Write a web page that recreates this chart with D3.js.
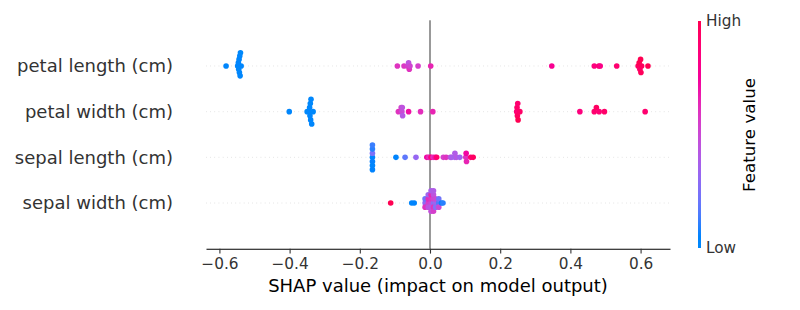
<!DOCTYPE html>
<html>
<head>
<meta charset="utf-8">
<script src="https://cdn.jsdelivr.net/npm/d3@7"></script>
<style>
  body { margin: 0; background: #fff; }
  svg { display: block; font-family: "DejaVu Sans", sans-serif; }
</style>
</head>
<body>
<svg id="chart" width="800" height="310"></svg>
<script>
// feature rows, bottom to top (row index = position on y)
const features = ["sepal width (cm)", "sepal length (cm)", "petal width (cm)", "petal length (cm)"];

// SHAP values per sample (30 test samples) and feature value (0 = low, 1 = high)
const petalLengthShap = [-0.581, -0.548, -0.546, -0.545, -0.544, -0.543, -0.542, -0.541, -0.540, -0.538,
  -0.093, -0.074, -0.064, -0.061, -0.059, -0.057, -0.034, 0.002,
  0.347, 0.468, 0.481, 0.485, 0.532, 0.593, 0.596, 0.598, 0.600, 0.601, 0.603, 0.621];
const petalLengthFv = [0.02, 0.01, 0.03, 0.0, 0.02, 0.01, 0.03, 0.02, 0.0, 0.03,
  0.6, 0.58, 0.55, 0.45, 0.6, 0.52, 0.55, 0.65,
  0.78, 0.85, 0.88, 0.82, 0.9, 0.95, 1.0, 0.92, 1.0, 0.97, 0.96, 1.0];

const petalWidthShap = [-0.401, -0.350, -0.344, -0.343, -0.342, -0.341, -0.340, -0.339, -0.337, -0.333,
  -0.090, -0.082, -0.080, -0.079, -0.078, -0.061, -0.027, 0.008,
  0.247, 0.248, 0.249, 0.250, 0.251, 0.256, 0.427, 0.468, 0.474, 0.482, 0.497, 0.613];
const petalWidthFv = [0.02, 0.0, 0.03, 0.01, 0.02, 0.0, 0.03, 0.01, 0.02, 0.0,
  0.6, 0.55, 0.5, 0.45, 0.42, 0.7, 0.62, 0.65,
  0.88, 0.92, 0.95, 0.9, 1.0, 0.93, 0.85, 0.9, 0.95, 0.88, 0.92, 0.9];

const sepalLengthShap = [-0.164, -0.164, -0.164, -0.164, -0.164, -0.164, -0.164,
  -0.097, -0.071, -0.040,
  -0.009, -0.004, 0.000, 0.003, 0.009, 0.015, 0.019, 0.038, 0.046, 0.058,
  0.062, 0.071, 0.071, 0.076, 0.085, 0.102, 0.103, 0.104, 0.116, 0.123];
const sepalLengthFv = [0.05, 0.25, 0.08, 0.1, 0.03, 0.12, 0.06,
  0.05, 0.18, 0.32,
  0.72, 0.65, 0.6, 0.85, 0.62, 0.7, 0.9, 0.55, 0.6, 0.45,
  0.38, 0.36, 0.4, 0.42, 0.35, 0.6, 0.72, 0.65, 0.88, 0.95];

const sepalWidthShap = [-0.112, -0.052, -0.045,
  -0.014, -0.014, -0.014, -0.005, -0.005, -0.005, -0.005,
  0.003, 0.003, 0.003, 0.003, 0.003, 0.003,
  0.010, 0.010, 0.010, 0.010, 0.010, 0.010,
  0.016, 0.016, 0.016, 0.025, 0.025, 0.025, 0.033, 0.037];
const sepalWidthFv = [1.0, 0.02, 0.05,
  0.3, 0.22, 0.6, 0.55, 0.62, 0.45, 0.35,
  0.5, 0.58, 0.42, 0.65, 0.47, 0.38,
  0.3, 0.52, 0.6, 0.45, 0.55, 0.4,
  0.35, 0.5, 0.28, 0.15, 0.22, 0.5, 0.08, 0.1];

const shapRows = [sepalWidthShap, sepalLengthShap, petalWidthShap, petalLengthShap];
const fvRows = [sepalWidthFv, sepalLengthFv, petalWidthFv, petalLengthFv];
const xTicks = [-0.6, -0.4, -0.2, 0.0, 0.2, 0.4, 0.6];

const svg = d3.select("#chart");

// scales
const x = d3.scaleLinear().domain([-0.6382, 0.6838]).range([206, 670]);
const y = d3.scaleLinear().domain([-1, 4]).range([248.7, 20.3]);

// shap red_blue colormap (LCH blue -> red)
const color = d3.interpolateHcl(d3.hcl(266.93, 70, 54), d3.hcl(20.32, 90, 54));

// beeswarm offsets like shap: bin values, stack alternately up/down
function swarm(shaps) {
  const nbins = 100;
  const lo = d3.min(shaps), hi = d3.max(shaps);
  const quant = shaps.map(s => Math.round(nbins * (s - lo) / (hi - lo + 1e-8)));
  const order = d3.range(shaps.length).sort((a, b) => quant[a] - quant[b]);
  const ys = new Array(shaps.length).fill(0);
  let layer = 0, last = -1;
  order.forEach(i => {
    if (quant[i] !== last) layer = 0;
    ys[i] = Math.ceil(layer / 2) * ((layer % 2) * 2 - 1);
    layer++;
    last = quant[i];
  });
  const k = d3.max(ys, v => v + 1);
  return ys.map(v => v * 0.9 * 0.4 / k);
}

// dotted row guides
svg.append("g")
  .selectAll("line")
  .data(features)
  .enter()
  .append("line")
  .attr("x1", x.range()[0])
  .attr("x2", x.range()[1])
  .attr("y1", (d, i) => y(i))
  .attr("y2", (d, i) => y(i))
  .attr("stroke", "#cccccc")
  .attr("stroke-width", 0.7)
  .attr("stroke-dasharray", "0.7,3.5");

// zero line
svg.append("line")
  .attr("x1", x(0)).attr("x2", x(0))
  .attr("y1", y(4)).attr("y2", y(-1))
  .attr("stroke", "#999999")
  .attr("stroke-width", 2);

// dots
shapRows.forEach((shaps, row) => {
  const ys = swarm(shaps);
  const fv = fvRows[row];
  svg.append("g")
    .selectAll("circle")
    .data(shaps)
    .enter()
    .append("circle")
    .attr("cx", d => x(d))
    .attr("cy", (d, i) => y(row + ys[i]))
    .attr("r", 2.8)
    .attr("fill", (d, i) => color(fv[i]));
});

// x axis
const xAxis = svg.append("g")
  .attr("transform", "translate(0," + y(-1) + ")")
  .call(d3.axisBottom(x)
    .tickValues(xTicks)
    .tickSizeInner(4.9)
    .tickSizeOuter(0)
    .tickPadding(4.9)
    .tickFormat(d => d.toFixed(1).replace("-", "\u2212")));
xAxis.select(".domain").attr("stroke", "#000").attr("stroke-width", 1.1);
xAxis.selectAll(".tick line").attr("stroke", "#333333").attr("stroke-width", 1.1);
xAxis.selectAll(".tick text")
  .attr("fill", "#333333")
  .attr("font-size", "15.3px")
  .attr("font-family", "DejaVu Sans, sans-serif");

svg.append("text")
  .attr("x", (x.range()[0] + x.range()[1]) / 2)
  .attr("y", 292)
  .attr("text-anchor", "middle")
  .attr("font-size", "18px")
  .attr("fill", "#000")
  .text("SHAP value (impact on model output)");

// feature labels
svg.append("g")
  .selectAll("text")
  .data(features)
  .enter()
  .append("text")
  .attr("x", 173)
  .attr("y", (d, i) => y(i))
  .attr("dy", "0.35em")
  .attr("text-anchor", "end")
  .attr("font-size", "18px")
  .attr("fill", "#333333")
  .text(d => d);

// colour bar
const grad = svg.append("defs")
  .append("linearGradient")
  .attr("id", "cbar")
  .attr("x1", 0).attr("y1", 1)
  .attr("x2", 0).attr("y2", 0);
d3.range(0, 1.0001, 0.05).forEach(t => {
  grad.append("stop").attr("offset", t).attr("stop-color", color(t));
});
svg.append("rect")
  .attr("x", 698).attr("y", 21)
  .attr("width", 3).attr("height", 227)
  .attr("fill", "url(#cbar)");

svg.append("text")
  .attr("x", 706).attr("y", 21).attr("dy", "0.35em")
  .attr("font-size", "15.3px").attr("fill", "#333333")
  .text("High");
svg.append("text")
  .attr("x", 706).attr("y", 248).attr("dy", "0.35em")
  .attr("font-size", "15.3px").attr("fill", "#333333")
  .text("Low");
svg.append("text")
  .attr("transform", "translate(749,135) rotate(-90)")
  .attr("dy", "0.35em")
  .attr("text-anchor", "middle")
  .attr("font-size", "16.7px")
  .attr("fill", "#000")
  .text("Feature value");
</script>
</body>
</html>
